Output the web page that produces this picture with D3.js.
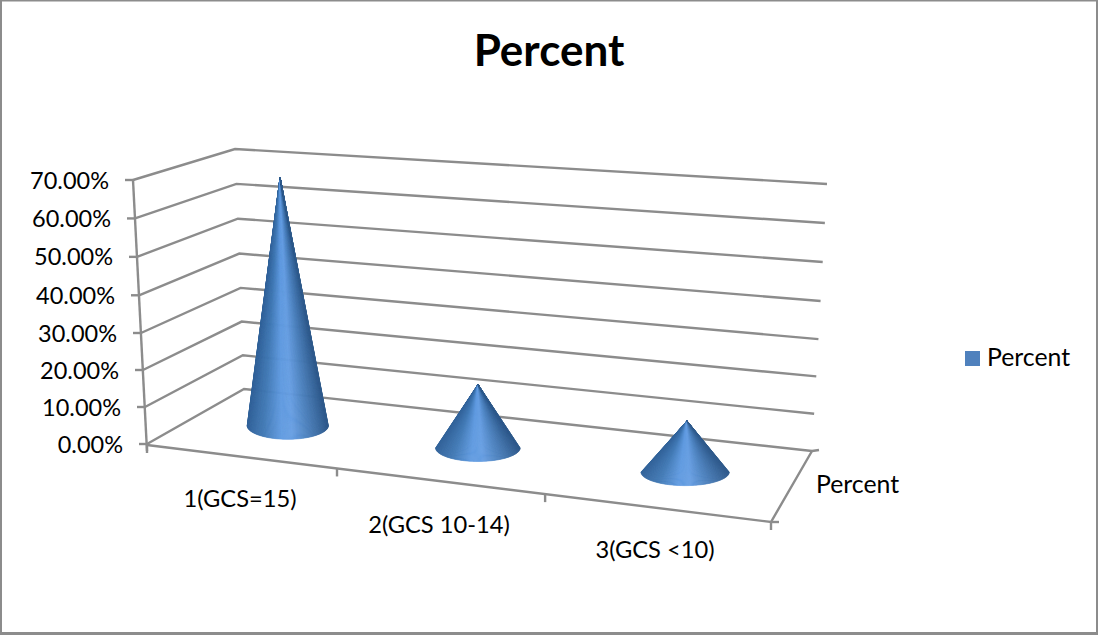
<!DOCTYPE html>
<html>
<head>
<meta charset="utf-8">
<script src="https://cdnjs.cloudflare.com/ajax/libs/d3/7.8.5/d3.min.js"></script>
<style>
  html, body { margin: 0; padding: 0; background: #fff; }
  svg { display: block; }
  text { font-family: Lato, "Open Sans", sans-serif; fill: #000; }
</style>
</head>
<body>
<svg id="chart" width="1098" height="636"></svg>
<script>
// Chart content
const chartTitle = "Percent";
const seriesName = "Percent";
const categories = ["1(GCS=15)", "2(GCS 10-14)", "3(GCS <10)"];
const percentValues = [67.8, 16.7, 13.0];
const valueTicks = [0, 10, 20, 30, 40, 50, 60, 70];

const svg = d3.select("#chart");
const W = 1098, H = 636;
const gridColor = "#8c8c8c";

// Chart frame
const frame = svg.append("g").attr("fill", "#8c8c8c");
frame.append("rect").attr("x", 0).attr("y", 0).attr("width", W).attr("height", 1.5);
frame.append("rect").attr("x", 0).attr("y", 0).attr("width", 2).attr("height", 635);
frame.append("rect").attr("x", 1096).attr("y", 0).attr("width", 2).attr("height", 635);
frame.append("rect").attr("x", 0).attr("y", 632).attr("width", W).attr("height", 3);

// Edges of the perspective box, each as a scale over percent values
const frontX = d3.scaleLinear().domain([0, 35, 70]).range([147, 140, 133]);
const frontY = d3.scaleLinear().domain([0, 35, 70]).range([444, 314.5, 180]);
const backX  = d3.scaleLinear().domain([0, 35, 70]).range([244, 240, 235]);
const backY  = d3.scaleLinear().domain([0, 35, 70]).range([389, 271, 149]);
const rightX = d3.scaleLinear().domain([0, 35, 70]).range([812, 819.5, 827]);
const rightY = d3.scaleLinear().domain([0, 35, 70]).range([451, 320.5, 184]);

// Floor: category bands shrink toward the viewer's left under perspective
const bandPos = d3.scaleLinear().domain([0, 1, 2, 3]).range([0, 0.3045, 0.638, 1]);
const floorFrontX = d3.scaleLinear().domain([0, 1]).range([147, 771]);
const floorFrontY = d3.scaleLinear().domain([0, 1]).range([445, 522]);
const floorBackX  = d3.scaleLinear().domain([0, 1]).range([244, 812]);
const floorBackY  = d3.scaleLinear().domain([0, 1]).range([389, 451]);

// Vertical pixels per percent across the floor, and sideways lean of verticals
const unitY = d3.scaleLinear().domain([0, 1]).range([3.6, 4.0]);
const leanX = d3.scaleLinear().domain([0, 1]).range([-12 / 70, 15 / 70]);
const baseRx = d3.scaleLinear().domain([0.152, 0.819]).range([40.5, 44]);
const baseRy = 13.7;

// Walls: each gridline runs front-left to back-left to back-right
const wallLine = d3.line();
const grid = svg.append("g").attr("fill", "none").attr("stroke", gridColor).attr("stroke-width", 2.4);
grid.selectAll("path.wall").data(valueTicks).join("path")
  .attr("class", "wall")
  .attr("d", v => wallLine([
    [frontX(v), frontY(v)],
    [backX(v), backY(v)],
    [rightX(v), rightY(v)]
  ]));

// Value axis with its tick marks and labels
grid.append("path").attr("d", wallLine([[frontX(70), frontY(70)], [frontX(0), frontY(0) + 7]]));
grid.selectAll("line.vtick").data(valueTicks).join("line")
  .attr("class", "vtick")
  .attr("x1", v => frontX(v) - 8).attr("x2", v => frontX(v))
  .attr("y1", v => frontY(v)).attr("y2", v => frontY(v));
svg.append("g").selectAll("text").data(valueTicks).join("text")
  .attr("x", v => frontX(v) - 24)
  .attr("y", v => frontY(v) + 8.5)
  .attr("text-anchor", "end")
  .attr("font-size", 23.5)
  .text(v => v.toFixed(2) + "%");

// Floor outline and category tick marks
const frontPt = u => [floorFrontX(u), floorFrontY(u)];
grid.append("path").attr("d", wallLine([frontPt(0), frontPt(1), [floorBackX(1), floorBackY(1)]]));
grid.selectAll("line.ctick").data(d3.range(0, 4)).join("line")
  .attr("class", "ctick")
  .attr("x1", i => floorFrontX(bandPos(i))).attr("x2", i => floorFrontX(bandPos(i)))
  .attr("y1", i => floorFrontY(bandPos(i))).attr("y2", i => floorFrontY(bandPos(i)) + 8);
grid.append("line")
  .attr("x1", floorFrontX(1)).attr("x2", floorFrontX(1) + 8)
  .attr("y1", floorFrontY(1)).attr("y2", floorFrontY(1));
grid.append("line")
  .attr("x1", floorBackX(1)).attr("x2", floorBackX(1) + 7)
  .attr("y1", floorBackY(1)).attr("y2", floorBackY(1) - 1);

// Shading around the cone surface, from the left silhouette to the right one
const shade = d3.scaleLinear()
  .domain([0, 0.2, 0.42, 0.56, 0.76, 1])
  .range(["#33639a", "#4078b4", "#5f9ae0", "#669ee2", "#4a7fbb", "#2f5a8c"]);

// Cones drawn as a fan of narrow facets meeting at the apex
percentValues.forEach((value, i) => {
  const u = bandPos(i + 0.5);
  const cx = (floorFrontX(u) + floorBackX(u)) / 2 + 1.5;
  const cy = (floorFrontY(u) + floorBackY(u)) / 2 - 2;
  const rx = baseRx(u);
  const apex = [cx + leanX(u) * value, cy - unitY(u) * value];
  const facets = d3.range(0, 120);
  const rim = k => {
    const a = Math.PI * (1 - k / facets.length);
    return [cx + rx * Math.cos(a), cy + baseRy * Math.sin(a)];
  };
  svg.append("g").selectAll("path").data(facets).join("path")
    .attr("d", k => wallLine([apex, rim(k), rim(k + 1)]) + "Z")
    .attr("fill", k => shade((rim(k + 0.5)[0] - (cx - rx)) / (2 * rx)))
    .attr("stroke", k => shade((rim(k + 0.5)[0] - (cx - rx)) / (2 * rx)))
    .attr("stroke-width", 0.6);
});

// Category labels
const labelPos = [[240, 507], [439, 533], [655, 558]];
svg.append("g").selectAll("text").data(categories).join("text")
  .attr("x", (d, i) => labelPos[i][0])
  .attr("y", (d, i) => labelPos[i][1])
  .attr("text-anchor", "middle")
  .attr("font-size", 23.7)
  .text(d => d);

// Series axis label
svg.append("text").attr("x", 816).attr("y", 493).attr("font-size", 24.8).text(seriesName);

// Legend
svg.append("rect").attr("x", 965).attr("y", 351).attr("width", 15).attr("height", 15).attr("fill", "#4f81bd");
svg.append("text").attr("x", 987).attr("y", 366).attr("font-size", 24.8).text(seriesName);

// Title
svg.append("text").attr("x", 549).attr("y", 66)
  .attr("text-anchor", "middle").attr("font-size", 44).attr("font-weight", 700)
  .text(chartTitle);
</script>
</body>
</html>
